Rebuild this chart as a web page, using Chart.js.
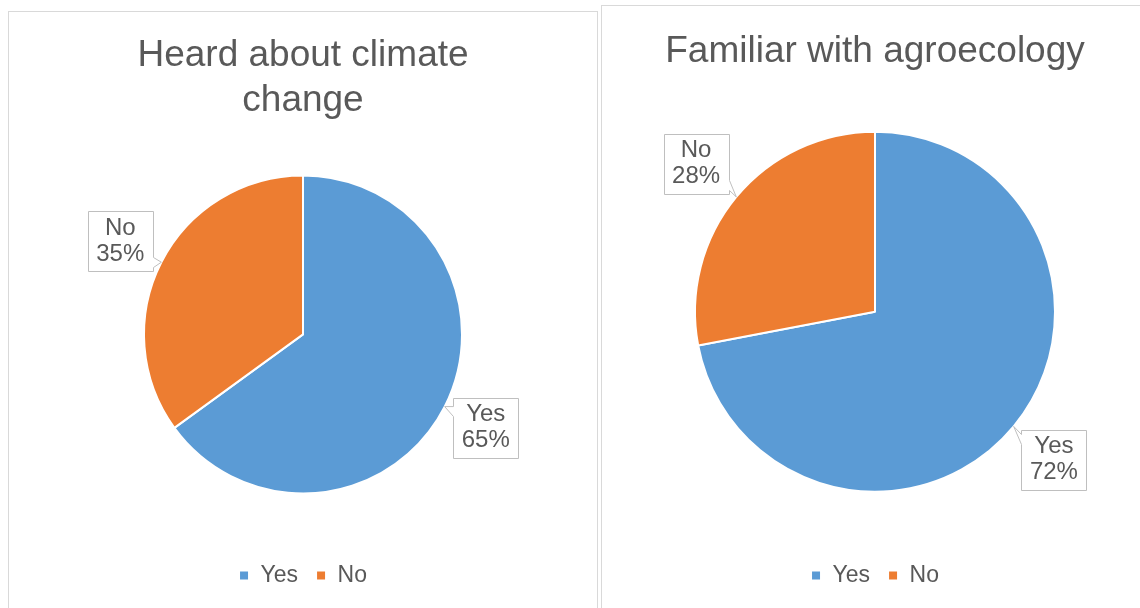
<!DOCTYPE html>
<html>
<head>
<meta charset="utf-8">
<title>Climate change and agroecology awareness</title>
<script src="https://cdn.jsdelivr.net/npm/chart.js@4.4.1/dist/chart.umd.min.js"></script>
<style>
  html, body { margin: 0; padding: 0; background: #fff; overflow: hidden; }
  body { width: 1140px; height: 608px; position: relative; }
  .panel { position: absolute; border: 1px solid #d9d9d9; background: #fff; }
  #panelLeft { left: 8px; top: 11px; width: 588px; height: 620px; }
  #panelRight { left: 601px; top: 5px; width: 546px; height: 620px; }
  canvas { display: block; }
</style>
</head>
<body>
<div class="panel" id="panelLeft"><canvas id="climateChart" width="588" height="596"></canvas></div>
<div class="panel" id="panelRight"><canvas id="agroChart" width="546" height="602"></canvas></div>
<script>
// Answers (percent of respondents)
const answerLabels = ['Yes', 'No'];
const climateValues = [65, 35];
const agroValues = [72, 28];

const sliceColors = ['#5B9BD5', '#ED7D31'];
const textColor = '#595959';
const fontFamily = "'Liberation Sans', Arial, sans-serif";

// Boxed callout labels ("Yes / 65%") with a small pointer to the slice edge
const calloutLabels = {
    id: 'calloutLabels',
    afterDatasetsDraw(chart) {
        const ctx = chart.ctx;
        const values = chart.data.datasets[0].data;
        const total = values.reduce((a, b) => a + b, 0);
        const meta = chart.getDatasetMeta(0);

        meta.data.forEach((arc, i) => {
            const mid = (arc.startAngle + arc.endAngle) / 2;
            const r = arc.outerRadius;
            const dx = Math.cos(mid), dy = Math.sin(mid);
            const tipX = arc.x + r * dx, tipY = arc.y + r * dy;
            const cx = arc.x + r * 1.29 * dx, cy = arc.y + r * 1.29 * dy;
            const w = 65, h = 60;
            const left = Math.round(cx - w / 2) + 0.5, top = Math.round(cy - h / 2) + 0.5;
            const right = left + w, bottom = top + h;

            // notch sits on the side that faces the pie
            const y1 = Math.min(Math.max(tipY, top + 4), bottom - 14);
            const y2 = y1 + 10;

            ctx.save();
            ctx.beginPath();
            ctx.moveTo(left, top);
            ctx.lineTo(right, top);
            if (tipX > right) {
                ctx.lineTo(right, y1);
                ctx.lineTo(tipX, tipY);
                ctx.lineTo(right, y2);
            }
            ctx.lineTo(right, bottom);
            ctx.lineTo(left, bottom);
            if (tipX < left) {
                ctx.lineTo(left, y2);
                ctx.lineTo(tipX, tipY);
                ctx.lineTo(left, y1);
            }
            ctx.closePath();
            ctx.fillStyle = '#fff';
            ctx.fill();
            ctx.lineWidth = 1;
            ctx.strokeStyle = '#bfbfbf';
            ctx.stroke();

            ctx.fillStyle = textColor;
            ctx.font = '24px ' + fontFamily;
            ctx.textAlign = 'center';
            ctx.textBaseline = 'middle';
            const pct = Math.round(values[i] / total * 100) + '%';
            ctx.fillText(chart.data.labels[i], cx, cy - 13);
            ctx.fillText(pct, cx, cy + 13);
            ctx.restore();
        });
    }
};

function makePie(canvasId, titleText, titleSize, titlePadding, values, radius) {
    return new Chart(document.getElementById(canvasId).getContext('2d'), {
        type: 'pie',
        data: {
            labels: answerLabels,
            datasets: [{
                data: values,
                backgroundColor: sliceColors,
                borderColor: '#fff',
                borderWidth: 2,
                hoverOffset: 0,
                radius: radius
            }]
        },
        options: {
            responsive: false,
            animation: false,
            layout: { padding: { bottom: 11 } },
            plugins: {
                title: {
                    display: true,
                    text: titleText,
                    color: textColor,
                    font: { family: fontFamily, size: titleSize, weight: 'normal' },
                    padding: titlePadding
                },
                legend: {
                    position: 'bottom',
                    labels: {
                        color: textColor,
                        font: { family: fontFamily, size: 23 },
                        boxWidth: 10,
                        boxHeight: 10,
                        padding: 18
                    }
                },
                tooltip: { enabled: false }
            }
        },
        plugins: [calloutLabels]
    });
}

makePie('climateChart', ['Heard about climate', 'change'], 37, { top: 22, bottom: 0 }, climateValues, 159);
makePie('agroChart', 'Familiar with agroecology', 37, { top: 24, bottom: 3 }, agroValues, 180);
</script>
</body>
</html>
